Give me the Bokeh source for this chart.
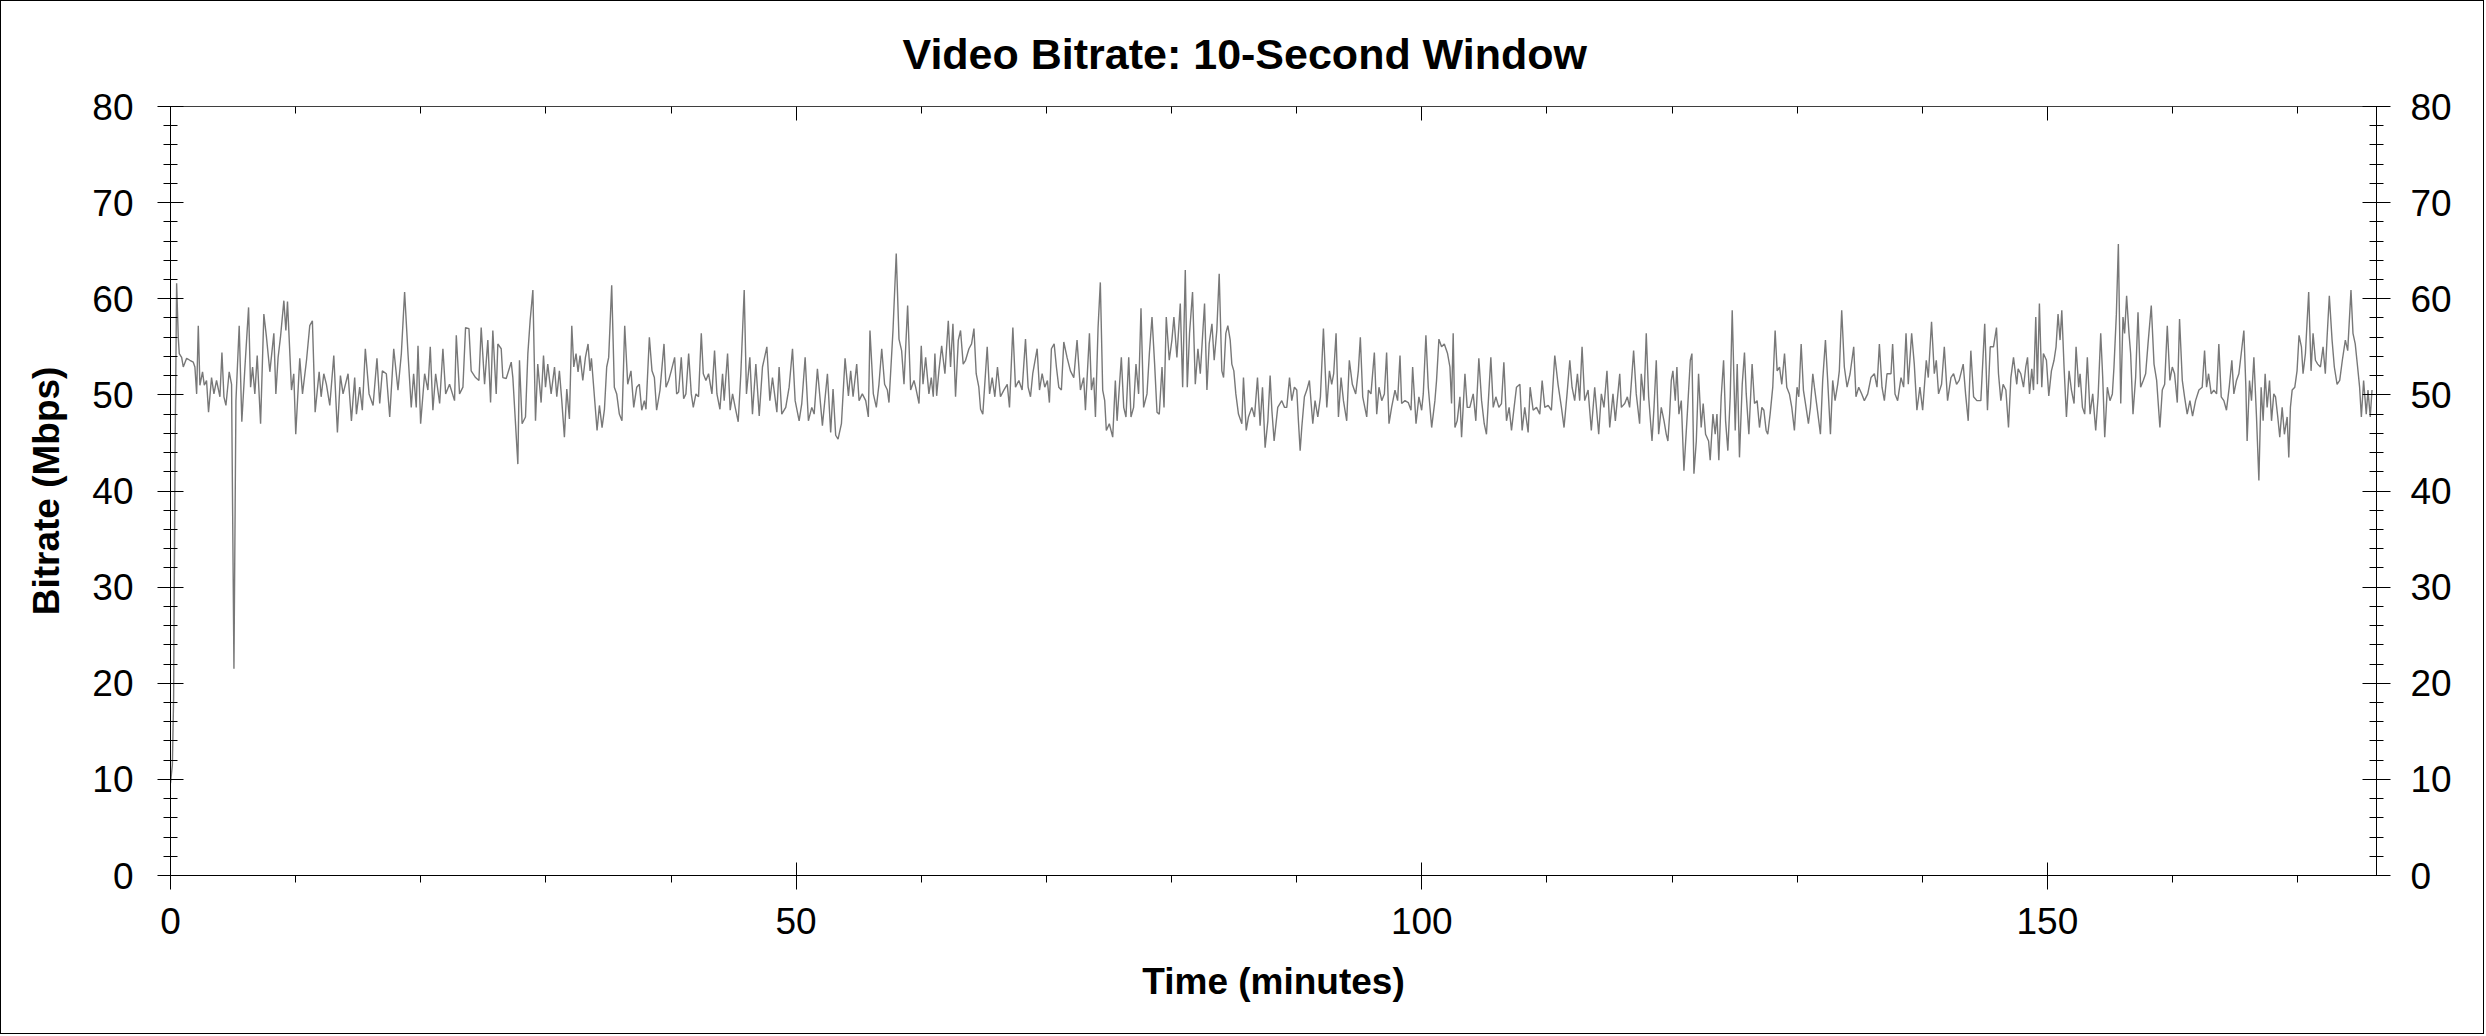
from bokeh.plotting import figure
from bokeh.models import LinearAxis, SingleIntervalTicker, FixedTicker, Range1d
from bokeh.embed import file_html
from bokeh.resources import INLINE

FONT = "Liberation Sans"

# ---- data: time (minutes) and 10-second-window video bitrate (Mbps) ----
seg1_t = [0.0, 0.15, 0.25, 0.36, 0.49, 0.62, 0.7, 0.89, 1.02, 1.29,
          1.55, 1.82, 1.95, 2.09, 2.22, 2.35, 2.56, 2.7, 2.88, 3.04,
          3.28, 3.47, 3.68, 3.95, 4.11, 4.27, 4.43, 4.69, 4.88, 5.07,
          5.23, 5.49, 5.7, 5.94, 6.24, 6.4, 6.56, 6.74, 6.93, 7.2,
          7.46, 7.67, 7.94, 8.26, 8.42, 8.6, 8.79, 9.06, 9.22, 9.35,
          9.67, 9.85, 10.01, 10.33, 10.55, 10.87, 11.13, 11.34, 11.56, 11.88,
          12.04, 12.25, 12.46, 12.73, 13.05, 13.34, 13.58, 13.79, 14.19, 14.46,
          14.72, 14.86, 15.12, 15.33, 15.57, 15.87, 16.19, 16.5, 16.72, 16.93,
          17.25, 17.52, 17.84, 18.18, 18.45, 18.71, 18.98, 19.24, 19.43, 19.64,
          19.78, 19.99, 20.31, 20.57, 20.76, 20.97, 21.19, 21.51, 21.77, 21.99,
          22.3, 22.7, 22.84, 23.1, 23.37, 23.58, 23.85, 24.03, 24.38, 24.65,
          24.83, 25.1, 25.36, 25.58, 25.76, 26.03, 26.16, 26.43, 26.56, 26.83,
          27.23, 27.36, 27.76, 27.89, 28.1, 28.37, 28.56, 28.74, 28.96]
seg1_v = [9.6, 11.5, 18.5, 43.5, 61.6, 56.0, 54.3, 53.9, 52.9, 53.8,
          53.6, 53.4, 52.9, 50.1, 57.2, 51.0, 52.4, 51.0, 51.5, 48.2,
          51.8, 50.1, 51.5, 49.8, 54.4, 49.8, 48.9, 52.4, 51.1, 21.5,
          49.4, 57.2, 47.2, 52.7, 59.1, 50.8, 52.9, 50.1, 54.1, 47.0,
          58.4, 56.0, 52.4, 56.4, 50.1, 53.9, 56.0, 59.8, 56.7, 59.7,
          50.5, 52.2, 45.9, 53.8, 50.1, 53.6, 57.2, 57.7, 48.2, 52.4,
          49.8, 52.2, 51.1, 48.9, 54.1, 46.1, 52.0, 50.1, 52.2, 47.3,
          51.8, 48.0, 50.8, 48.4, 54.8, 50.1, 48.9, 53.8, 49.1, 52.5,
          52.2, 47.7, 54.8, 50.5, 54.3, 60.7, 54.3, 48.7, 52.2, 48.7,
          55.1, 47.0, 52.2, 50.5, 55.0, 48.4, 52.2, 49.1, 54.8, 50.1,
          51.1, 49.4, 56.2, 50.1, 50.8, 57.0, 56.9, 52.5, 51.8, 51.5,
          57.0, 51.1, 55.7, 49.2, 56.7, 50.1, 55.3, 54.8, 51.8, 51.7,
          53.4, 51.8, 42.8, 53.6, 47.0, 47.7, 54.3, 57.7, 60.9]

seg2_t = [29.17, 29.35, 29.62, 29.81, 29.97, 30.15, 30.42, 30.69, 30.87, 31.08,
          31.27, 31.48, 31.67, 31.88, 32.07, 32.23, 32.41, 32.57, 32.73, 32.95,
          33.16, 33.37, 33.53, 33.64, 33.88, 34.09, 34.28, 34.49, 34.68, 34.86,
          35.02, 35.26, 35.47, 35.66, 35.87, 36.08, 36.3, 36.54, 36.8, 37.02,
          37.26, 37.47, 37.66, 37.87, 38.0, 38.27, 38.48, 38.67, 38.85, 39.12,
          39.44, 39.6, 39.81, 40.02, 40.29, 40.45, 40.61, 40.82, 41.01, 41.19,
          41.41, 41.62, 41.78, 41.99, 42.2, 42.42, 42.58, 42.79, 43.0, 43.27,
          43.48, 43.67, 43.91, 44.12, 44.25, 44.52, 44.73, 44.92, 45.13, 45.37,
          45.58, 45.85, 46.03, 46.3, 46.51, 46.78, 47.05, 47.31, 47.66, 47.9,
          48.11, 48.46, 48.64, 48.85, 49.17, 49.44, 49.71, 49.92, 50.24, 50.45,
          50.72, 50.98, 51.25, 51.44, 51.7, 51.83, 52.1, 52.5, 52.76, 52.95,
          53.16, 53.35, 53.62, 53.91, 54.18, 54.36, 54.55, 54.84, 55.03, 55.29,
          55.56, 55.77, 55.9, 56.17, 56.41, 56.62, 56.84, 57.07, 57.29, 57.42,
          57.74, 58.0]
seg2_v = [47.3, 53.2, 49.2, 54.1, 50.8, 53.2, 50.1, 52.9, 49.8, 52.5,
          49.4, 45.6, 50.6, 47.5, 57.2, 52.9, 54.3, 52.4, 54.1, 51.5,
          53.9, 55.3, 52.5, 53.8, 49.8, 46.3, 48.9, 46.6, 48.5, 52.9,
          53.9, 61.4, 50.8, 50.1, 48.0, 47.3, 57.2, 51.1, 52.5, 48.7,
          50.8, 51.1, 48.4, 49.4, 48.5, 56.0, 52.5, 51.8, 48.4, 50.5,
          55.3, 50.8, 51.5, 52.5, 53.9, 50.1, 50.3, 53.9, 49.6, 50.1,
          54.3, 50.1, 48.7, 50.1, 49.8, 56.4, 52.2, 51.5, 52.2, 50.1,
          54.6, 50.1, 48.5, 52.2, 49.4, 54.3, 48.4, 50.1, 48.7, 47.2,
          52.2, 60.9, 50.1, 53.9, 48.0, 53.2, 47.8, 52.9, 55.0, 49.4,
          51.8, 48.2, 52.9, 48.0, 48.7, 50.8, 54.8, 49.4, 47.3, 49.1,
          53.9, 47.3, 48.7, 48.0, 52.7, 50.8, 46.8, 52.2, 46.1, 50.6,
          45.8, 45.4, 47.0, 53.8, 49.9, 52.5, 49.8, 53.2, 49.4, 50.1,
          49.4, 47.7, 56.7, 50.1, 48.7, 51.1, 54.8, 51.1, 50.5, 49.2,
          56.7, 64.7]

seg3_t = [58.22, 58.43, 58.62, 58.91, 59.15, 59.42, 59.55, 59.82, 60.0, 60.14,
          60.35, 60.61, 60.8, 60.96, 61.09, 61.23, 61.41, 61.63, 61.89, 62.16,
          62.34, 62.53, 62.74, 62.96, 63.14, 63.35, 63.54, 63.81, 64.02, 64.21,
          64.39, 64.6, 64.74, 64.92, 65.27, 65.46, 65.67, 65.88, 66.09, 66.33,
          66.6, 66.87, 67.05, 67.32, 67.53, 67.8, 68.06, 68.33, 68.54, 68.73,
          68.91, 69.26, 69.45, 69.66, 69.87, 70.08, 70.24, 70.4, 70.62, 70.8,
          70.99, 71.2, 71.39, 71.65, 71.92, 72.19, 72.45, 72.72, 72.98, 73.12,
          73.44, 73.6, 73.78, 73.92, 74.13, 74.31, 74.5, 74.66, 74.79, 75.03,
          75.3, 75.51, 75.65, 75.99, 76.18, 76.36, 76.58, 76.76, 76.97, 77.16,
          77.37, 77.56, 77.77, 78.04, 78.23, 78.44, 78.65, 78.84, 79.02, 79.24,
          79.4, 79.58, 79.82, 80.03, 80.19, 80.43, 80.7, 80.89, 81.1, 81.26,
          81.44, 81.68, 81.9, 82.11, 82.3, 82.43, 82.64, 82.83, 83.01, 83.23,
          83.41, 83.62, 83.81, 84.02, 84.16, 84.34, 84.5, 84.69, 84.82, 84.98,
          85.14, 85.35, 85.62, 85.75, 85.97, 86.15, 86.42, 86.63, 86.87, 87.08,
          87.27, 87.48, 87.7, 87.88, 88.02, 88.2]
seg3_v = [55.8, 54.6, 51.1, 59.3, 50.5, 51.5, 50.8, 49.1, 55.1, 51.1,
          53.9, 50.1, 51.8, 49.8, 54.3, 49.9, 52.5, 55.1, 52.2, 57.7,
          52.9, 57.4, 49.8, 55.7, 56.7, 53.2, 53.6, 54.8, 55.3, 56.9,
          52.2, 50.8, 48.5, 48.0, 55.0, 50.1, 51.8, 49.8, 52.9, 49.8,
          50.5, 51.1, 48.7, 57.0, 50.8, 51.5, 50.5, 55.8, 50.8, 49.8,
          52.2, 54.8, 50.5, 52.2, 50.8, 51.5, 49.2, 54.8, 55.3, 52.9,
          50.8, 50.5, 55.5, 53.9, 52.5, 51.8, 55.7, 50.5, 51.8, 48.4,
          56.4, 50.5, 51.8, 47.7, 57.0, 61.7, 50.5, 49.4, 46.3, 47.0,
          45.6, 51.5, 47.3, 53.9, 48.7, 47.7, 53.9, 47.7, 48.7, 53.2,
          50.1, 59.0, 48.7, 50.1, 54.3, 58.1, 53.2, 48.2, 48.0, 52.9,
          48.7, 58.1, 53.6, 55.7, 58.1, 53.9, 59.5, 50.8, 63.0, 50.8,
          56.4, 60.7, 51.1, 54.8, 52.2, 55.0, 59.5, 50.5, 55.3, 57.4,
          53.6, 56.7, 62.6, 52.5, 51.8, 56.4, 57.2, 55.7, 53.2, 52.5,
          50.1, 48.0, 47.0, 51.8, 46.3, 47.7, 48.7, 47.7, 51.8, 46.8,
          50.8, 44.5, 47.3, 52.0, 48.4, 45.2]

seg4_t = [88.49, 88.81, 89.03, 89.21, 89.43, 89.61, 89.82, 90.01, 90.14, 90.28,
          90.41, 90.62, 90.81, 91.02, 91.16, 91.29, 91.47, 91.69, 91.9, 92.14,
          92.41, 92.62, 92.8, 92.96, 93.15, 93.34, 93.55, 93.74, 94.0, 94.21,
          94.45, 94.72, 94.93, 95.09, 95.28, 95.6, 95.73, 95.94, 96.21, 96.4,
          96.58, 96.8, 97.01, 97.19, 97.38, 97.59, 97.86, 98.07, 98.26, 98.39,
          98.66, 98.92, 99.14, 99.27, 99.54, 99.77, 99.99, 100.12, 100.33, 100.52,
          100.79, 101.05, 101.18, 101.37, 101.58, 101.8, 102.06, 102.25, 102.38, 102.51,
          102.65, 102.83, 103.05, 103.18, 103.45, 103.63, 103.84, 104.11, 104.32, 104.56,
          104.78, 104.99, 105.17, 105.52, 105.71, 105.92, 106.16, 106.37, 106.56, 106.77,
          106.98, 107.17, 107.38, 107.57, 107.84, 108.02, 108.23, 108.5, 108.66, 108.9,
          109.17, 109.43, 109.62, 109.83, 110.1, 110.36, 110.63, 110.89, 111.16, 111.37,
          111.61, 111.83, 112.01, 112.22, 112.44, 112.62, 112.81, 113.02, 113.29, 113.55,
          113.82, 114.14, 114.35, 114.56, 114.8, 115.02, 115.28, 115.47, 115.82, 115.95,
          116.22, 116.43, 116.61, 116.93, 117.14, 117.41, 117.54, 117.76, 117.94]
seg4_v = [48.7, 49.4, 48.7, 48.7, 51.8, 49.4, 50.8, 50.5, 47.3, 44.2,
          46.6, 49.8, 50.5, 51.5, 49.1, 47.0, 49.4, 47.7, 49.8, 56.9,
          48.7, 52.5, 51.1, 52.2, 56.4, 47.7, 51.8, 49.4, 47.3, 53.6,
          51.1, 50.1, 52.5, 56.0, 49.8, 47.7, 50.5, 50.1, 54.4, 48.0,
          50.8, 49.4, 50.1, 54.4, 47.0, 48.7, 50.5, 49.4, 54.1, 49.1,
          49.4, 49.2, 48.4, 52.9, 47.0, 49.8, 48.4, 50.1, 56.2, 50.8,
          46.6, 49.4, 51.5, 55.8, 55.0, 55.3, 54.3, 52.9, 49.1, 56.4,
          46.6, 47.3, 49.8, 45.6, 52.2, 48.7, 48.7, 50.1, 47.3, 53.8,
          49.4, 47.0, 45.9, 53.9, 48.7, 49.8, 48.7, 49.1, 53.4, 47.3,
          48.7, 46.3, 48.7, 50.8, 51.1, 46.3, 48.7, 46.1, 50.8, 48.4,
          48.7, 48.0, 51.5, 48.7, 48.9, 48.4, 54.1, 51.1, 48.7, 46.6,
          50.1, 53.6, 50.8, 49.4, 52.2, 49.4, 55.0, 49.4, 50.5, 46.3,
          50.8, 45.9, 50.1, 48.7, 52.5, 46.6, 50.1, 47.3, 52.2, 48.7,
          49.1, 49.8, 48.7, 54.6, 50.1, 47.0, 52.2, 49.4, 56.4]

seg5_t = [118.13, 118.4, 118.56, 118.74, 118.93, 119.14, 119.36, 119.54, 119.67, 119.81,
          119.94, 120.07, 120.26, 120.39, 120.55, 120.74, 120.95, 121.22, 121.46, 121.59,
          121.75, 121.94, 122.12, 122.33, 122.49, 122.68, 122.92, 123.05, 123.27, 123.45,
          123.59, 123.74, 123.93, 124.12, 124.28, 124.46, 124.65, 124.81, 125.05, 125.21,
          125.39, 125.61, 125.79, 125.93, 126.14, 126.4, 126.59, 126.8, 126.99, 127.18,
          127.34, 127.52, 127.65, 127.84, 128.05, 128.24, 128.4, 128.59, 128.77, 128.99,
          129.17, 129.38, 129.57, 129.78, 129.99, 130.13, 130.32, 130.5, 130.71, 130.9,
          131.06, 131.25, 131.38, 131.59, 131.86, 132.04, 132.26, 132.44, 132.66, 132.84,
          133.03, 133.24, 133.37, 133.56, 133.77, 133.99, 134.23, 134.52, 134.7, 134.92,
          135.16, 135.37, 135.64, 135.9, 136.17, 136.38, 136.57, 136.78, 136.97, 137.18,
          137.5, 137.63, 137.82, 138.03, 138.3, 138.51, 138.7, 138.88, 139.15, 139.36,
          139.57, 139.81, 140.03, 140.32, 140.48, 140.74, 140.96, 141.12, 141.3, 141.54,
          141.76, 142.02, 142.29, 142.5, 142.74, 142.95, 143.27, 143.46, 143.67, 143.88,
          144.1, 144.36, 144.68, 144.99, 145.21, 145.43, 145.69, 145.93, 146.09, 146.28,
          146.46, 146.68, 146.89, 147.08, 147.29, 147.55]
seg5_v = [49.8, 45.2, 48.7, 53.6, 45.9, 48.7, 47.3, 45.9, 45.2, 48.0,
          51.5, 52.5, 49.4, 52.9, 48.0, 49.4, 42.1, 48.0, 53.6, 54.3,
          41.8, 45.2, 52.2, 46.6, 49.1, 45.9, 45.2, 43.2, 48.0, 45.9,
          48.0, 43.2, 49.8, 53.6, 47.3, 44.2, 49.8, 58.8, 46.3, 53.2,
          43.5, 51.1, 54.4, 50.1, 45.9, 53.2, 49.1, 49.4, 46.6, 48.7,
          48.4, 46.3, 45.9, 48.0, 50.8, 56.7, 52.5, 52.9, 51.1, 54.3,
          50.8, 50.1, 48.7, 46.3, 50.8, 49.8, 55.3, 50.5, 48.7, 47.0,
          48.7, 52.2, 50.8, 48.7, 45.9, 51.5, 55.7, 51.5, 45.9, 51.5,
          49.4, 51.1, 52.5, 58.8, 52.9, 50.8, 52.2, 55.0, 49.8, 50.8,
          50.1, 49.4, 50.1, 51.8, 52.2, 50.8, 55.3, 50.8, 49.4, 52.2,
          52.2, 55.3, 50.1, 49.4, 51.8, 50.8, 56.4, 51.1, 56.4, 53.2,
          48.4, 50.8, 48.4, 53.6, 51.8, 57.6, 52.2, 53.6, 50.1, 51.1,
          55.0, 49.4, 51.8, 52.2, 51.1, 51.5, 53.2, 50.1, 47.3, 54.6,
          49.8, 49.4, 49.4, 57.4, 48.4, 55.0, 55.0, 57.0, 52.2, 49.4,
          51.1, 50.5, 46.6, 51.8, 53.9, 51.1]

seg6_t = [147.66, 147.87, 148.09, 148.27, 148.41, 148.57, 148.75, 148.89, 149.07, 149.2,
          149.36, 149.55, 149.68, 149.92, 150.11, 150.32, 150.53, 150.69, 150.85, 151.01,
          151.15, 151.33, 151.52, 151.73, 151.92, 152.13, 152.29, 152.5, 152.61, 152.8,
          152.98, 153.19, 153.41, 153.62, 153.86, 154.05, 154.26, 154.42, 154.58, 154.79,
          155.0, 155.19, 155.32, 155.51, 155.67, 155.86, 156.04, 156.17, 156.33, 156.52,
          156.65, 156.84, 157.05, 157.24, 157.45, 157.66, 157.85, 158.04, 158.3, 158.52,
          158.73, 158.99, 159.18, 159.37, 159.58, 159.79, 159.98, 160.16, 160.38, 160.56,
          160.78, 160.96, 161.17, 161.39, 161.6, 161.84, 162.11, 162.37, 162.56, 162.72,
          162.88, 163.09, 163.3, 163.52, 163.7, 163.89, 164.1, 164.31, 164.53, 164.74,
          164.9, 165.11, 165.3, 165.49, 165.7, 165.86, 165.96, 166.15, 166.31, 166.5,
          166.71, 166.9, 167.08, 167.24, 167.4, 167.56, 167.75, 167.91, 168.09, 168.23,
          168.41, 168.57, 168.76, 168.94, 169.16, 169.29, 169.42, 169.56, 169.77, 169.95,
          170.11, 170.3, 170.43, 170.62, 170.88, 171.07, 171.23, 171.42, 171.6, 171.82,
          172.03, 172.21, 172.35, 172.53, 172.75, 172.93, 173.15, 173.36, 173.57, 173.81,
          174.0, 174.26, 174.42, 174.6, 174.79, 174.95, 175.09, 175.27, 175.48, 175.62,
          175.8, 175.94]
seg6_v = [52.7, 52.2, 50.8, 52.9, 53.9, 50.1, 52.7, 50.5, 58.1, 51.1,
          59.5, 50.8, 54.3, 53.6, 49.9, 52.5, 53.6, 55.0, 58.4, 55.7,
          58.8, 52.9, 47.7, 52.5, 50.5, 49.1, 55.0, 50.8, 52.2, 48.7,
          48.0, 53.9, 48.0, 50.1, 46.3, 49.8, 56.4, 51.8, 45.6, 50.8,
          49.4, 50.1, 52.9, 58.4, 65.7, 49.1, 58.1, 56.4, 60.3, 56.4,
          54.3, 48.0, 51.8, 58.6, 50.8, 51.5, 52.2, 55.3, 59.3, 53.2,
          51.5, 46.6, 50.5, 51.1, 57.2, 51.5, 52.9, 52.2, 49.2, 57.9,
          51.5, 49.8, 48.0, 49.4, 47.8, 49.4, 50.5, 50.8, 54.6, 50.8,
          52.2, 50.1, 50.5, 50.1, 55.3, 49.8, 49.4, 48.4, 50.8, 53.6,
          50.1, 51.5, 52.2, 54.3, 56.7, 50.8, 45.2, 51.5, 49.4, 53.9,
          47.7, 41.1, 50.8, 47.3, 52.2, 48.7, 51.5, 47.3, 50.1, 49.8,
          47.7, 45.6, 48.7, 45.9, 47.7, 43.5, 48.7, 50.5, 50.8, 52.5,
          56.2, 55.0, 52.2, 54.3, 60.7, 52.5, 56.4, 53.6, 53.2, 52.9,
          55.0, 52.2, 56.0, 60.3, 55.7, 52.9, 51.1, 51.5, 53.6, 55.7,
          54.6, 60.9, 56.4, 55.3, 52.9, 50.8, 47.7, 51.5, 48.0, 50.5,
          47.7, 50.5]

time_min = seg1_t + seg2_t + seg3_t + seg4_t + seg5_t + seg6_t
bitrate_mbps = seg1_v + seg2_v + seg3_v + seg4_v + seg5_v + seg6_v

# tick positions of the unlabeled top axis
top_short_ticks = [10, 20, 30, 40, 60, 70, 80, 90, 110, 120, 130, 140, 160, 170]
top_long_ticks = [50, 100, 150]

# ---- figure ----
p = figure(width=2484, height=1034,
           x_range=Range1d(0, 176.3), y_range=Range1d(0, 80),
           output_backend="svg", toolbar_location=None,
           x_axis_location=None, y_axis_location=None,
           min_border_left=169, min_border_right=109,
           min_border_top=105, min_border_bottom=160)
p.styles = {"border": "1px solid black"}
p.outline_line_color = None
p.grid.visible = False
p.background_fill_color = "white"
p.border_fill_color = "white"

p.title.text = "Video Bitrate: 10-Second Window"
p.title.text_font = FONT
p.title.text_font_size = "43px"
p.title.text_font_style = "bold"
p.title.text_color = "black"
p.title.align = "left"
p.title.offset = 732
p.title.vertical_align = "top"
p.title.standoff = 54


def make_axis(ticker, tin, tout, mtin, mtout, standoff=20, label=None):
    ax = LinearAxis(ticker=ticker)
    ax.major_tick_in = tin
    ax.major_tick_out = tout
    ax.minor_tick_in = mtin
    ax.minor_tick_out = mtout
    ax.axis_line_color = "black"
    ax.major_tick_line_color = "black"
    ax.minor_tick_line_color = "black"
    ax.axis_line_width = 1
    ax.major_tick_line_width = 1
    ax.minor_tick_line_width = 1
    ax.major_label_text_font = FONT
    ax.major_label_text_color = "black"
    ax.major_label_text_font_size = "37px"
    ax.major_label_standoff = standoff
    if label:
        ax.axis_label = label
        ax.axis_label_text_font = FONT
        ax.axis_label_text_font_size = "37px"
        ax.axis_label_text_font_style = "bold"
        ax.axis_label_text_color = "black"
    return ax


xb = make_axis(SingleIntervalTicker(interval=50, num_minor_ticks=5), 13, 14, 0, 7, 18, "Time (minutes)")
xb.axis_label_standoff = 24
yl = make_axis(SingleIntervalTicker(interval=10, num_minor_ticks=5), 13, 13, 7, 7, 24, "Bitrate (Mbps)")
yl.axis_label_standoff = 22
yr = make_axis(SingleIntervalTicker(interval=10, num_minor_ticks=5), 14, 14, 7, 7, 20)

# top axis: ticks only (no labels), drawn at the top edge of the frame
xt1 = make_axis(FixedTicker(ticks=[], minor_ticks=top_short_ticks), 0, 0, 7, 0, 0)
xt1.fixed_location = 80
xt2 = make_axis(FixedTicker(ticks=[], minor_ticks=top_long_ticks), 0, 0, 14, 0, 0)
xt2.fixed_location = 80

p.add_layout(xb, "below")
p.add_layout(xt1, "above")
p.add_layout(xt2, "above")
p.add_layout(yl, "left")
p.add_layout(yr, "right")

p.line(time_min, bitrate_mbps, line_color="#787878", line_width=1.4)

open("out.html", "w").write(file_html(p, INLINE))
